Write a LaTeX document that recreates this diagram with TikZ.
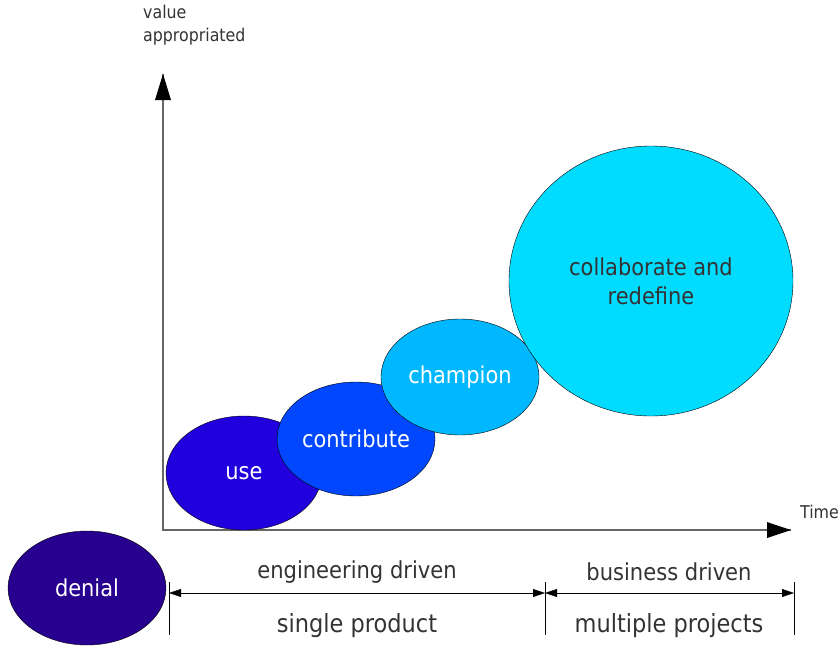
\documentclass[tikz,border=0pt]{standalone}
\usepackage{xcolor}
\usepackage{fontspec}
\setmainfont{DejaVu Sans Condensed}
\usetikzlibrary{shapes.geometric,arrows.meta}

\definecolor{denialcol}{HTML}{28008F}
\definecolor{usecol}{HTML}{2200DD}
\definecolor{contribcol}{HTML}{0047FF}
\definecolor{champcol}{HTML}{00B8FF}
\definecolor{collabcol}{HTML}{00DCFF}
\definecolor{txtcol}{HTML}{333333}

\tikzset{
  stage/.style={ellipse,draw=black,thin,inner sep=0pt,text=white,font=\fontsize{23.3}{29}\selectfont},
  axisline/.style={draw=gray!80!black,line width=1.6pt},
  dimline/.style={{Triangle[length=12pt,width=8pt]}-{Triangle[length=12pt,width=8pt]},thin},
  label/.style={text=txtcol,font=\fontsize{23.4}{28}\selectfont}
}

\begin{document}
\begin{tikzpicture}[x=1pt,y=-1pt]
\useasboundingbox (0,0) rectangle (839,646);

% axes
\coordinate (origin) at (163,530);
\coordinate (ytip) at (163,74);
\coordinate (xtip) at (791,530);
\draw[axisline] (ytip) -- (origin) -- (xtip);
\fill[black] (ytip) -- (155,100) -- (171,100) -- cycle;
\fill[black] (xtip) -- (767,522) -- (767,538) -- cycle;
\node[text=txtcol,font=\fontsize{17.6}{23}\selectfont,align=left,anchor=west,inner sep=0pt] (ylabel) at (143,25.5) {value\\appropriated};
\node[text=txtcol,font=\fontsize{17.6}{21}\selectfont,anchor=west,inner sep=0pt] (xlabel) at (800,512) {Time};

% stages
\node[stage,fill=denialcol,minimum width=158,minimum height=114] (denial) at (87,588) {denial};
\node[stage,fill=usecol,minimum width=156,minimum height=114] (use) at (244,473) {use};
\node[stage,fill=contribcol,minimum width=158,minimum height=114] (contribute) at (356,439) {contribute};
\node[stage,fill=champcol,minimum width=158,minimum height=116] (champion) at (460,377) {champion};
\node[stage,fill=collabcol,text=txtcol,align=center,minimum width=284,minimum height=270] (collaborate) at (651,281) {collaborate and\\redefine};

% periods
\coordinate (t0) at (169,593);
\coordinate (t1) at (545,593);
\coordinate (t2) at (794,593);
\foreach \t in {t0,t1,t2} {
    \draw[thin] ([yshift=11]\t) -- ([yshift=-42]\t);
}
\draw[dimline] (t0) -- (t1);
\draw[dimline] (t1) -- (t2);
\node[label] (eng) at (357,572) {engineering driven};
\node[label,font=\fontsize{25}{30}\selectfont] (single) at (357,626) {single product};
\node[label] (bus) at (669,572) {business driven};
\node[label,font=\fontsize{25}{30}\selectfont] (multi) at (669,626) {multiple projects};
\end{tikzpicture}
\end{document}
